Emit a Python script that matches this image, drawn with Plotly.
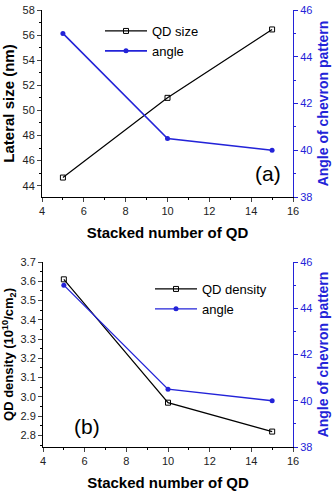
import plotly.graph_objects as go

stack = [5, 10, 15]
qd_size = [44.65, 51.0, 56.45]
angle_a = [45.0, 40.5, 40.0]
qd_density = [3.61, 2.97, 2.82]
angle_b = [45.0, 40.5, 40.0]

BLUE = "#2323d8"
FONT = "Liberation Sans, Arial, sans-serif"
W, H = 336, 494

def px_x(a, b):
    return [a / W, b / W]

def px_y(top, bot):
    return [1 - bot / H, 1 - top / H]

fig = go.Figure()

fig.add_trace(go.Scatter(x=stack, y=qd_size, name="QD size", mode="lines+markers",
                         line=dict(color="black", width=1.2),
                         marker=dict(symbol="square-open", size=5, color="black", line=dict(width=1)),
                         xaxis="x", yaxis="y", legend="legend"))
fig.add_trace(go.Scatter(x=stack, y=angle_a, name="angle", mode="lines+markers",
                         line=dict(color=BLUE, width=1.6),
                         marker=dict(symbol="circle", size=5, color=BLUE),
                         xaxis="x", yaxis="y2", legend="legend"))
fig.add_trace(go.Scatter(x=stack, y=qd_density, name="QD density", mode="lines+markers",
                         line=dict(color="black", width=1.2),
                         marker=dict(symbol="square-open", size=5, color="black", line=dict(width=1)),
                         xaxis="x2", yaxis="y3", legend="legend2"))
fig.add_trace(go.Scatter(x=stack, y=angle_b, name="angle", mode="lines+markers",
                         line=dict(color=BLUE, width=1.3),
                         marker=dict(symbol="circle", size=5, color=BLUE),
                         xaxis="x2", yaxis="y4", legend="legend2"))

tickfont = dict(family=FONT, size=11, color="#222")
titlefont = dict(family=FONT, size=15, color="black", weight="bold")

def xax(domain, anchor):
    return dict(domain=domain, anchor=anchor, range=[4, 16], dtick=2, tick0=4,
                ticks="outside", ticklen=4, tickwidth=1, showline=True, linecolor="black",
                linewidth=1, showgrid=False, zeroline=False, tickfont=tickfont,
                minor=dict(ticks="outside", dtick=1, ticklen=2, tickcolor="black"),
                title=dict(text="Stacked number of QD", font=titlefont, standoff=11),
                automargin=False)

def topax(domain, anchor, overlay):
    return dict(domain=domain, anchor=anchor, overlaying=overlay, side="top",
                range=[4, 16], dtick=2, tick0=4, ticks="inside", ticklen=4,
                showline=True, linecolor="black", linewidth=1, showgrid=False,
                zeroline=False, showticklabels=False,
                minor=dict(ticks="inside", dtick=1, ticklen=2, tickcolor="black"))

dom_x1 = px_x(42, 293)
dom_y1 = px_y(10, 197)
dom_x2 = px_x(43, 293)
dom_y2 = px_y(262, 447)

fig.update_layout(
    width=W, height=H, margin=dict(l=0, r=0, t=0, b=0),
    paper_bgcolor="white", plot_bgcolor="white",
    font=dict(family=FONT),
    xaxis=xax(dom_x1, "y"),
    xaxis2=xax(dom_x2, "y3"),
    xaxis3=topax(dom_x1, "y", "x"),
    xaxis4=topax(dom_x2, "y3", "x2"),
    yaxis=dict(domain=dom_y1, anchor="x", range=[43.1, 58], dtick=2, tick0=44,
               ticks="outside", ticklen=4, showline=True, linecolor="black",
               showgrid=False, zeroline=False, tickfont=tickfont,
               minor=dict(ticks="outside", dtick=1, ticklen=2, tickcolor="black"),
               title=dict(text="Lateral size (nm)", font=dict(family=FONT, size=15, color="black", weight="bold"), standoff=8),
               automargin=False),
    yaxis2=dict(domain=dom_y1, anchor="x", overlaying="y", side="right", range=[38, 46], dtick=2,
                ticks="outside", ticklen=4, showline=True, linecolor=BLUE, tickcolor=BLUE,
                showgrid=False, zeroline=False, tickfont=dict(family=FONT, size=11, color=BLUE),
                minor=dict(ticks="outside", dtick=1, ticklen=2, tickcolor=BLUE),
                title=dict(text="Angle of chevron pattern", font=dict(family=FONT, size=14, color=BLUE, weight="bold"), standoff=6),
                automargin=False),
    yaxis3=dict(domain=dom_y2, anchor="x2", range=[2.74, 3.7], dtick=0.1, tick0=2.8,
                tickformat=".1f",
                ticks="outside", ticklen=4, showline=True, linecolor="black",
                showgrid=False, zeroline=False, tickfont=tickfont,
                minor=dict(ticks="outside", dtick=0.05, ticklen=2, tickcolor="black"),
                title=dict(text="QD density (10<sup>10</sup>/cm<sub>2</sub>)", font=dict(family=FONT, size=13, color="black", weight="bold"), standoff=6),
                automargin=False),
    yaxis4=dict(domain=dom_y2, anchor="x2", overlaying="y3", side="right", range=[38, 46], dtick=2,
                ticks="outside", ticklen=4, showline=True, linecolor=BLUE, tickcolor=BLUE,
                showgrid=False, zeroline=False, tickfont=dict(family=FONT, size=11, color=BLUE),
                minor=dict(ticks="outside", dtick=1, ticklen=2, tickcolor=BLUE),
                title=dict(text="Angle of chevron pattern", font=dict(family=FONT, size=14, color=BLUE, weight="bold"), standoff=6),
                automargin=False),
    legend=dict(x=100 / W, y=1 - 16 / H, xanchor="left", yanchor="top",
                font=dict(family=FONT, size=13, color="black"), bgcolor="rgba(0,0,0,0)",
                tracegroupgap=0, itemwidth=42),
    legend2=dict(x=150 / W, y=1 - 274 / H, xanchor="left", yanchor="top",
                 font=dict(family=FONT, size=13, color="black"), bgcolor="rgba(0,0,0,0)",
                 tracegroupgap=0, itemwidth=42),
    showlegend=True,
    annotations=[
        dict(text="(a)", x=14.8, y=39.0, xref="x", yref="y2", showarrow=False,
             font=dict(family=FONT, size=21, color="black")),
        dict(text="(b)", x=6.1, y=38.9, xref="x2", yref="y4", showarrow=False,
             font=dict(family=FONT, size=21, color="black")),
    ],
)

fig.write_html("out.html")
